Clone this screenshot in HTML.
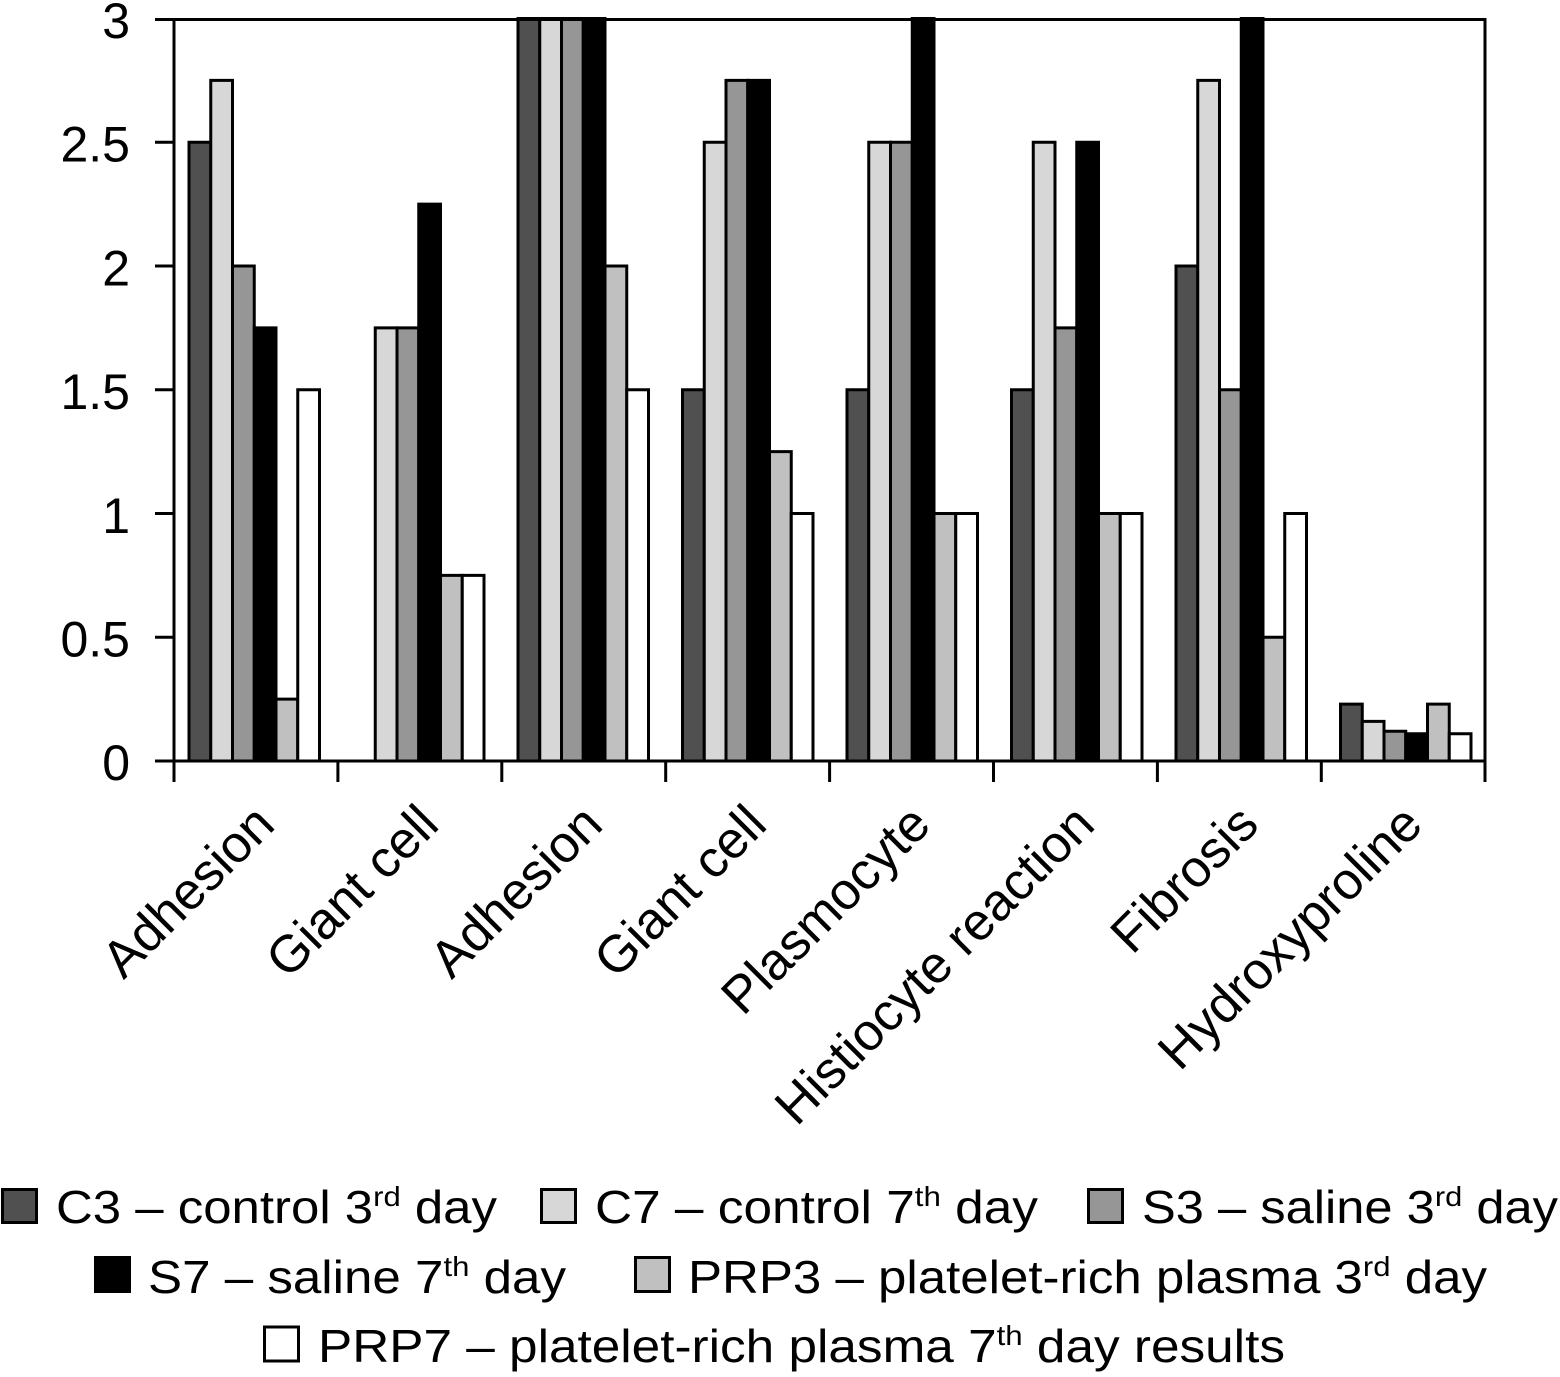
<!DOCTYPE html>
<html>
<head>
<meta charset="utf-8">
<style>
html,body{margin:0;padding:0;background:#fff;}
svg{display:block;}
text{font-family:"Liberation Sans","DejaVu Sans",sans-serif;fill:#000;}
.c1{fill:#505050}.c2{fill:#d7d7d7}.c3{fill:#969696}.c4{fill:#000}.c5{fill:#c0c0c0}.c6{fill:#fff}
</style>
</head>
<body>
<svg width="1560" height="1377" viewBox="0 0 1560 1377" xmlns="http://www.w3.org/2000/svg">
<rect x="0" y="0" width="1560" height="1377" fill="#fff"/>
<g transform="translate(0,761) scale(1,-1)" stroke="#000" stroke-width="3">
<path class="c1" d="M189 0V618.75h21.75V0z M518 0V742.5h21.75V0z M682.5 0V371.25h21.75V0z M847 0V371.25h21.75V0z M1011.5 0V371.25h21.75V0z M1176 0V495h21.75V0z M1340.5 0V56.9h21.75V0z"/>
<path class="c2" d="M210.75 0V680.6h21.75V0z M375.25 0V433.1h21.75V0z M539.75 0V742.5h21.75V0z M704.25 0V618.75h21.75V0z M868.75 0V618.75h21.75V0z M1033.25 0V618.75h21.75V0z M1197.75 0V680.6h21.75V0z M1362.25 0V39.6h21.75V0z"/>
<path class="c3" d="M232.5 0V495h21.75V0z M397 0V433.1h21.75V0z M561.5 0V742.5h21.75V0z M726 0V680.6h21.75V0z M890.5 0V618.75h21.75V0z M1055 0V433.1h21.75V0z M1219.5 0V371.25h21.75V0z M1384 0V29.7h21.75V0z"/>
<path class="c4" d="M254.25 0V433.1h21.75V0z M418.75 0V556.9h21.75V0z M583.25 0V742.5h21.75V0z M747.75 0V680.6h21.75V0z M912.25 0V742.5h21.75V0z M1076.75 0V618.75h21.75V0z M1241.25 0V742.5h21.75V0z M1405.75 0V27.2h21.75V0z"/>
<path class="c5" d="M276 0V61.9h21.75V0z M440.5 0V185.6h21.75V0z M605 0V495h21.75V0z M769.5 0V309.4h21.75V0z M934 0V247.5h21.75V0z M1098.5 0V247.5h21.75V0z M1263 0V123.75h21.75V0z M1427.5 0V56.9h21.75V0z"/>
<path class="c6" d="M297.75 0V371.25h21.75V0z M462.25 0V185.6h21.75V0z M626.75 0V371.25h21.75V0z M791.25 0V247.5h21.75V0z M955.75 0V247.5h21.75V0z M1120.25 0V247.5h21.75V0z M1284.75 0V247.5h21.75V0z M1449.25 0V27.2h21.75V0z"/>
</g>
<path stroke="#000" stroke-width="3" fill="none" d="M155 19.5H1486.5 M174 18V782 M1485 18V782 M155 761H1486.5 M155 142.25H174 M155 266H174 M155 389.75H174 M155 513.5H174 M155 637.25H174 M337.9 761V782 M501.8 761V782 M665.7 761V782 M829.6 761V782 M993.5 761V782 M1157.4 761V782 M1321.3 761V782"/>
<g font-size="50" text-anchor="end">
<text x="130" y="38">3</text>
<text x="130" y="161.5">2.5</text>
<text x="130" y="285.5">2</text>
<text x="130" y="409">1.5</text>
<text x="130" y="533">1</text>
<text x="130" y="656.5">0.5</text>
<text x="130" y="780">0</text>
</g>
<g font-size="52" text-anchor="end">
<text transform="translate(277,827) rotate(-45)">Adhesion</text>
<text transform="translate(441,827) rotate(-45)">Giant cell</text>
<text transform="translate(605,827) rotate(-45)">Adhesion</text>
<text transform="translate(769,827) rotate(-45)">Giant cell</text>
<text transform="translate(933,827) rotate(-45)">Plasmocyte</text>
<text transform="translate(1097,827) rotate(-45)">Histiocyte reaction</text>
<text transform="translate(1261,827) rotate(-45)">Fibrosis</text>
<text transform="translate(1425,827) rotate(-45)">Hydroxyproline</text>
</g>
<g stroke="#000" stroke-width="3">
<rect class="c1" x="2.5" y="1189.5" width="34" height="33"/>
<rect class="c2" x="541.5" y="1189.5" width="34" height="33"/>
<rect class="c3" x="1088.5" y="1189.5" width="34" height="33"/>
<rect class="c4" x="95.5" y="1257.5" width="34" height="34"/>
<rect class="c5" x="635.5" y="1257.5" width="34" height="34"/>
<rect class="c6" x="264.5" y="1327" width="34" height="34"/>
</g>
<g font-size="46">
<text x="56" y="1223" textLength="441" lengthAdjust="spacingAndGlyphs">C3 – control 3<tspan font-size="28" dy="-17">rd</tspan><tspan dy="17"> day</tspan></text>
<text x="595" y="1223" textLength="443" lengthAdjust="spacingAndGlyphs">C7 – control 7<tspan font-size="28" dy="-17">th</tspan><tspan dy="17"> day</tspan></text>
<text x="1142" y="1223" textLength="416" lengthAdjust="spacingAndGlyphs">S3 – saline 3<tspan font-size="28" dy="-17">rd</tspan><tspan dy="17"> day</tspan></text>
<text x="148" y="1293" textLength="418" lengthAdjust="spacingAndGlyphs">S7 – saline 7<tspan font-size="28" dy="-17">th</tspan><tspan dy="17"> day</tspan></text>
<text x="688" y="1293" textLength="799" lengthAdjust="spacingAndGlyphs">PRP3 – platelet-rich plasma 3<tspan font-size="28" dy="-17">rd</tspan><tspan dy="17"> day</tspan></text>
<text x="318" y="1362" textLength="967" lengthAdjust="spacingAndGlyphs">PRP7 – platelet-rich plasma 7<tspan font-size="28" dy="-17">th</tspan><tspan dy="17"> day results</tspan></text>
</g>
</svg>
</body>
</html>
